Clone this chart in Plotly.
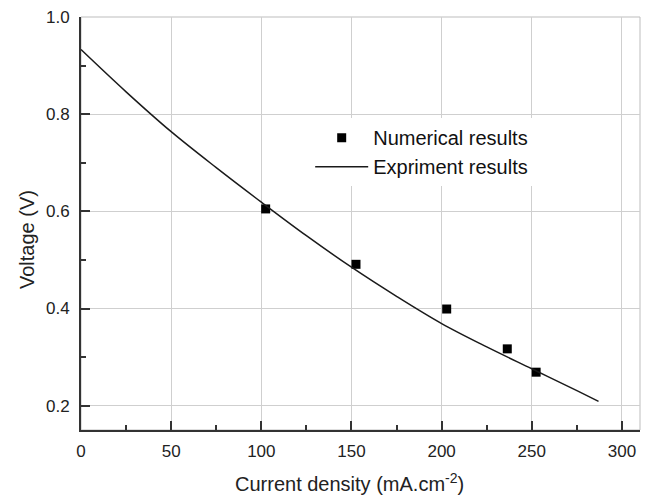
import plotly.graph_objects as go

# Numerical results (squares)
num_x = [102.4, 152.5, 202.8, 236.4, 252.4]
num_y = [0.605, 0.491, 0.399, 0.317, 0.269]

# Experiment results (curve)
exp_x = [0, 25, 50, 75, 100, 125, 150, 175, 200, 225, 250, 275, 287]
exp_y = [0.933, 0.846, 0.764, 0.69, 0.619, 0.55, 0.485, 0.425, 0.369, 0.321, 0.276, 0.231, 0.209]

x_ticks = [0, 50, 100, 150, 200, 250, 300]
y_ticks = [0.2, 0.4, 0.6, 0.8, 1.0]

FONT = "Liberation Sans, Arial, Helvetica, sans-serif"

fig = go.Figure()
fig.add_trace(go.Scatter(
    x=num_x, y=num_y, mode="markers", name="Numerical results",
    marker=dict(symbol="square", size=9, color="black"),
    legendrank=1,
))
fig.add_trace(go.Scatter(
    x=exp_x, y=exp_y, mode="lines", name="Expriment results",
    line=dict(color="#1a1a1a", width=1.5, shape="spline"),
    legendrank=2,
))

axis_common = dict(
    showgrid=True, gridcolor="#cfcfcf", gridwidth=1,
    showline=True, linecolor="#333333", linewidth=2,
    ticks="inside", ticklen=9, tickwidth=2, tickcolor="#333333",
    tickfont=dict(family=FONT, size=17, color="#222222"),
    zeroline=False, automargin=False,
)

fig.update_xaxes(
    range=[0, 310], tickvals=x_ticks, ticktext=[str(v) for v in x_ticks],
    minor=dict(dtick=25, tick0=0, ticks="inside", ticklen=5, tickwidth=1.5,
               tickcolor="#333333", showgrid=False),
    ticklabelstandoff=5,
    **axis_common,
)
fig.update_yaxes(
    range=[0.15, 1.0], tickvals=y_ticks, ticktext=[f"{v:.1f}" for v in y_ticks],
    minor=dict(dtick=0.1, tick0=0.1, ticks="inside", ticklen=5, tickwidth=1.5,
               tickcolor="#333333", showgrid=False),
    ticklabelstandoff=6,
    **axis_common,
)

fig.add_shape(type="rect", xref="paper", yref="paper", x0=0, x1=1, y0=0, y1=1,
              line=dict(color="#bdbdbd", width=1), layer="below")

fig.add_annotation(text="Current density (mA.cm<sup>-2</sup>)", xref="paper", yref="paper",
                   x=0.481, y=-0.126, xanchor="center", yanchor="middle", showarrow=False,
                   font=dict(family=FONT, size=20, color="#222222"))
fig.add_annotation(text="Voltage (V)", xref="paper", yref="paper",
                   x=-0.0966, y=0.46, xanchor="center", yanchor="middle", showarrow=False,
                   textangle=-90, font=dict(family=FONT, size=20, color="#222222"))

fig.update_layout(
    width=656, height=495,
    margin=dict(l=81, r=16, t=17, b=65, autoexpand=False),
    paper_bgcolor="white", plot_bgcolor="white",
    showlegend=True,
    legend=dict(x=0.41, y=0.755, xanchor="left", yanchor="top",
                bgcolor="white", borderwidth=0, itemwidth=53,
                font=dict(family=FONT, size=20, color="#111111"),
                tracegroupgap=0),
)

fig.write_html("out.html", config={"displayModeBar": False},
               post_script="document.body.style.margin='0';document.body.style.overflow='hidden';")
